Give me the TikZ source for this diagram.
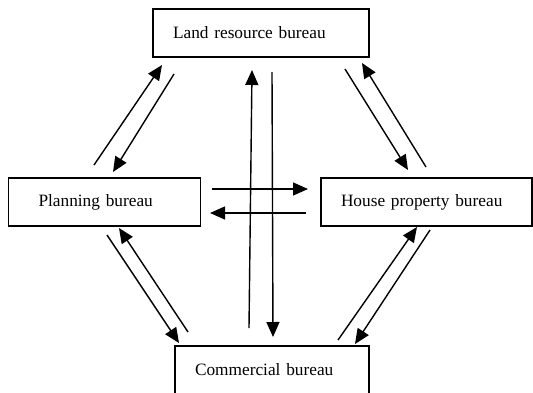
\documentclass[tikz,border=0pt]{standalone}
\usepackage{fontspec}
\setmainfont{Liberation Serif}
\usetikzlibrary{arrows.meta, calc}

\begin{document}
\begin{tikzpicture}[
    x=1pt,
    y=-1pt,
    bureau/.style={
        draw,
        line width=1.6pt,
        outer sep=0pt,
        inner xsep=20pt,
        minimum height=48pt,
        align=left,
        font=\fontsize{17.3}{20}\selectfont,
    },
    flow/.style={
        line width=1.4pt,
        -{Triangle[length=15pt, width=13pt]},
    }
]
    \useasboundingbox (0,0) rectangle (533,392);

    % Bureaus
    \node[bureau, text width=176pt] (land) at (261,33) {Land resource bureau};
    \node[bureau, text width=132pt, inner xsep=30pt] (plan) at (104.5,202) {Planning bureau};
    \node[bureau, text width=171pt] (house) at (426.5,202) {House property bureau};
    \node[bureau, text width=154pt] (comm) at (272,370) {Commercial bureau};

    % Planning <-> Land
    \draw[flow] ($(plan.north)+(-10.5,-13)$) -- ($(land.south west)+(9,8)$);
    \draw[flow] ($(land.south west)+(21,17)$) -- ($(plan.north)+(8.5,-6)$);

    % Land <-> House
    \draw[flow] ($(land.south east)+(-24,12)$) -- ($(house.north)+(-18.5,-8)$);
    \draw[flow] ($(house.north)+(-0.5,-11)$) -- ($(land.south east)+(-7,6)$);

    % Planning <-> House
    \draw[flow] ($(plan.east)+(11.5,-13)$) -- ($(house.west)+(-13,-13)$);
    \draw[flow] ($(house.west)+(-15,11)$) -- ($(plan.east)+(9.5,11)$);

    % Commercial <-> Land
    \draw[flow] ($(comm.north)+(-23,-18)$) -- ($(land.south)+(-9,13)$);
    \draw[flow] ($(land.south)+(11,15)$) -- ($(comm.north)+(1,-9)$);

    % Commercial <-> Planning
    \draw[flow] ($(comm.north west)+(13,-14)$) -- ($(plan.south)+(14.5,2)$);
    \draw[flow] ($(plan.south)+(2.5,9)$) -- ($(comm.north west)+(4,-3)$);

    % Commercial <-> House
    \draw[flow] ($(comm.north east)+(-31,-6)$) -- ($(house.south)+(-9.5,1)$);
    \draw[flow] ($(house.south)+(3.5,4)$) -- ($(comm.north east)+(-14,-2)$);
\end{tikzpicture}
\end{document}
